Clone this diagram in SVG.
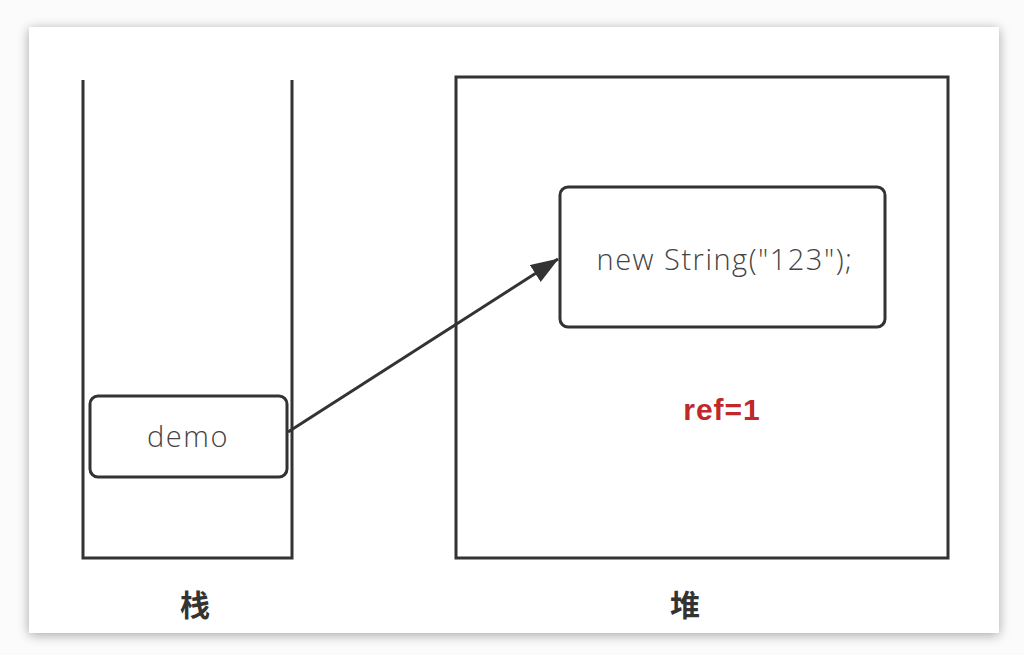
<svg xmlns="http://www.w3.org/2000/svg" width="1024" height="655" viewBox="0 0 1024 655">
<defs>
<filter id="sh" x="-5%" y="-5%" width="110%" height="110%">
<feGaussianBlur in="SourceAlpha" stdDeviation="6"/>
<feOffset dx="0" dy="2"/>
<feComponentTransfer><feFuncA type="linear" slope="0.35"/></feComponentTransfer>
<feMerge><feMergeNode/><feMergeNode in="SourceGraphic"/></feMerge>
</filter>
<marker id="ah" viewBox="0 0 28 20" refX="27" refY="10" markerWidth="28" markerHeight="20" markerUnits="userSpaceOnUse" orient="auto">
<path d="M0,0 L28,10 L0,20 Z" fill="#333"/>
</marker>
<style>
.ln{fill:none;stroke:#333;stroke-width:3}
.box{fill:#fff;stroke:#333;stroke-width:3}
.t{font-family:"Open Sans","Noto Sans",sans-serif;font-weight:300;fill:#444;font-size:29px;letter-spacing:1.5px;text-anchor:middle}
.lab{font-family:"Noto Sans CJK SC",sans-serif;font-weight:bold;fill:#333;font-size:30px;text-anchor:middle}
</style>
</defs>
<rect width="1024" height="655" fill="#fbfbfb"/>
<rect x="29" y="27" width="970" height="606" fill="#fff" filter="url(#sh)"/>
<g id="stack">
<path class="ln" d="M83,80 V558 H292 V80"/>
<text class="lab" x="195" y="616">栈</text>
</g>
<g id="heap">
<rect class="ln" x="456" y="77" width="492" height="481"/>
<text class="lab" x="685" y="616">堆</text>
</g>
<g id="demo">
<rect class="box" x="90" y="396" width="197" height="81" rx="8"/>
<text class="t" x="188" y="447">demo</text>
</g>
<g id="str">
<rect class="box" x="560" y="187" width="325" height="140" rx="8"/>
<text class="t" x="725" y="270">new String("123");</text>
</g>
<g id="ref">
<text x="722" y="420" font-family="'Liberation Sans',sans-serif" font-weight="bold" font-size="30" letter-spacing="1" fill="#c0282a" text-anchor="middle">ref=1</text>
</g>
<g id="connectors">
<line x1="288" y1="432" x2="558" y2="259" stroke="#333" stroke-width="3" marker-end="url(#ah)"/>
</g>
</svg>
